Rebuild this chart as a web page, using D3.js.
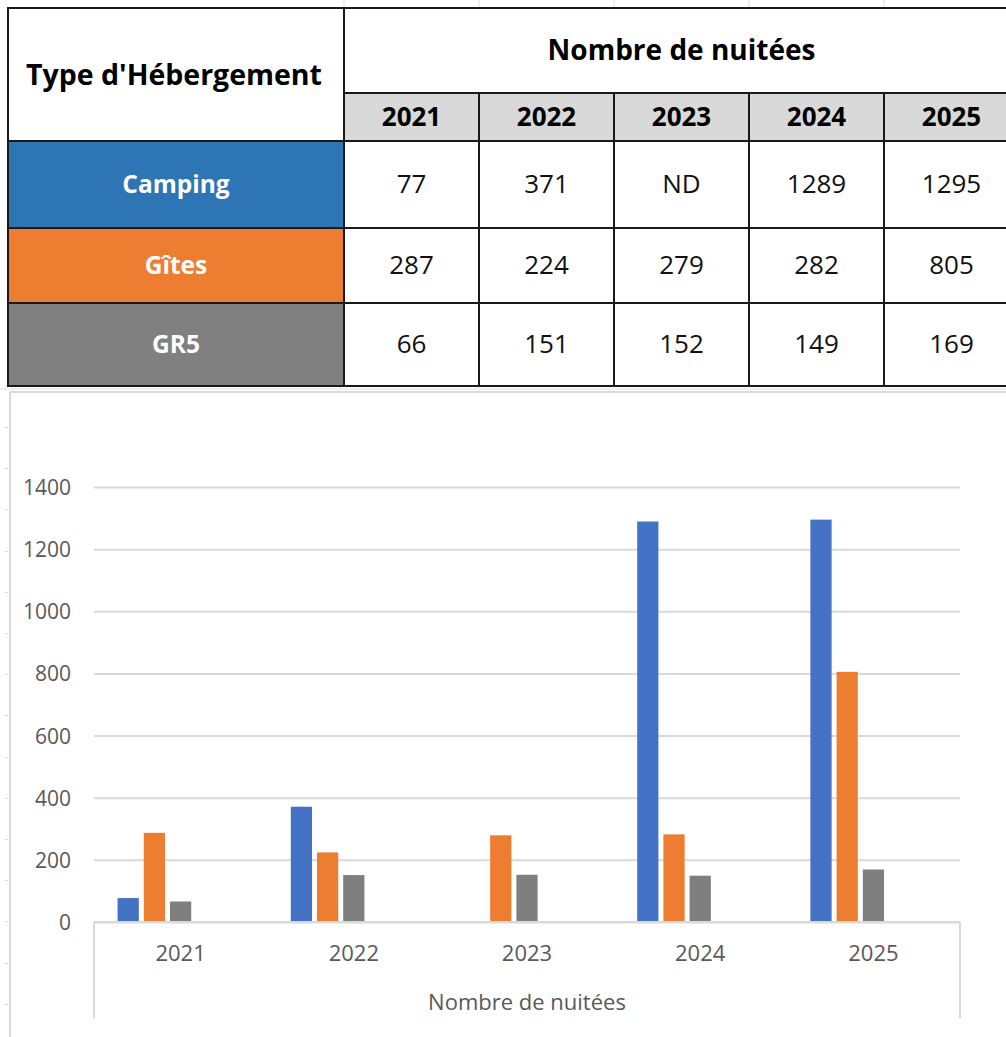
<!DOCTYPE html>
<html>
<head>
<meta charset="utf-8">
<script src="https://cdn.jsdelivr.net/npm/d3@7"></script>
<style>
    body { margin: 0; background: #ffffff; }
    svg { display: block; }
</style>
</head>
<body>
<script>
(function () {
    "use strict";

    var years = ["2021", "2022", "2023", "2024", "2025"];
    var series = ["Camping", "Gîtes", "GR5"];
    var camping = [77, 371, null, 1289, 1295];
    var gites = [287, 224, 279, 282, 805];
    var gr5 = [66, 151, 152, 149, 169];
    var yTicks = [0, 200, 400, 600, 800, 1000, 1200, 1400];
    var tableTitle = "Type d'Hébergement";
    var measureTitle = "Nombre de nuitées";

    var values = [camping, gites, gr5];
    var tableColors = ["#2e75b6", "#ed7d31", "#808080"];
    var barColors = ["#4472c4", "#ed7d31", "#7f7f7f"];

    var width = 1006, height = 1037;
    var font = "'Open Sans', 'Noto Sans', sans-serif";

    var svg = d3.select("body").append("svg")
        .attr("width", width)
        .attr("height", height)
        .style("font-family", font);

    /*
     * TABLE
     */

    var table = {left: 8, split: 344, right: 1019, top: 8, head: 93, years: 141};
    var rowEdges = [141, 228, 303, 386];

    var col = d3.scaleBand()
        .domain(years)
        .range([table.split, table.right]);

    // faint spreadsheet gridlines above the table
    var sheet = svg.append("g").attr("stroke", "#dedede").attr("stroke-width", 1);
    [table.split].concat(years.map(function (y) { return col(y) + col.bandwidth(); }))
        .forEach(function (x) {
            sheet.append("line").attr("x1", x).attr("x2", x).attr("y1", 0).attr("y2", table.top);
        });
    sheet.append("line").attr("x1", 0).attr("x2", width).attr("y1", 389).attr("y2", 389);

    var cells = svg.append("g");

    // year header background
    cells.append("rect")
        .attr("x", table.split).attr("y", table.head)
        .attr("width", table.right - table.split).attr("height", table.years - table.head)
        .attr("fill", "#d9d9d9");

    // coloured row labels
    series.forEach(function (name, i) {
        cells.append("rect")
            .attr("x", table.left).attr("y", rowEdges[i])
            .attr("width", table.split - table.left).attr("height", rowEdges[i + 1] - rowEdges[i])
            .attr("fill", tableColors[i]);
        cells.append("text")
            .attr("x", (table.left + table.split) / 2)
            .attr("y", (rowEdges[i] + rowEdges[i + 1]) / 2 + 2)
            .attr("text-anchor", "middle")
            .attr("dominant-baseline", "middle")
            .attr("fill", "#ffffff")
            .attr("font-weight", "bold")
            .attr("font-size", 24.5)
            .text(name);

        years.forEach(function (year, j) {
            var v = values[i][j];
            cells.append("text")
                .attr("x", col(year) + col.bandwidth() / 2)
                .attr("y", (rowEdges[i] + rowEdges[i + 1]) / 2 + 2)
                .attr("text-anchor", "middle")
                .attr("dominant-baseline", "middle")
                .attr("fill", "#111111")
                .attr("font-size", 26)
                .text(v == null ? "ND" : v);
        });
    });

    cells.append("text")
        .attr("x", (table.left + table.split) / 2 - 2)
        .attr("y", (table.top + table.years) / 2 + 3)
        .attr("text-anchor", "middle")
        .attr("dominant-baseline", "middle")
        .attr("font-weight", "bold")
        .attr("font-size", 28.5)
        .attr("fill", "#000000")
        .text(tableTitle);

    cells.append("text")
        .attr("x", (table.split + table.right) / 2)
        .attr("y", (table.top + table.head) / 2 + 2)
        .attr("text-anchor", "middle")
        .attr("dominant-baseline", "middle")
        .attr("font-weight", "bold")
        .attr("font-size", 28)
        .attr("fill", "#000000")
        .text(measureTitle);

    years.forEach(function (year) {
        cells.append("text")
            .attr("x", col(year) + col.bandwidth() / 2)
            .attr("y", (table.head + table.years) / 2 + 2)
            .attr("text-anchor", "middle")
            .attr("dominant-baseline", "middle")
            .attr("font-weight", "bold")
            .attr("font-size", 26)
            .attr("fill", "#000000")
            .text(year);
    });

    // table borders
    var borders = svg.append("g").attr("stroke", "#1a1a1a").attr("stroke-width", 2);
    borders.append("rect")
        .attr("x", table.left).attr("y", table.top)
        .attr("width", table.right - table.left).attr("height", rowEdges[3] - table.top)
        .attr("fill", "none");
    borders.append("line")
        .attr("x1", table.split).attr("x2", table.split)
        .attr("y1", table.top).attr("y2", rowEdges[3]);
    borders.append("line")
        .attr("x1", table.split).attr("x2", table.right)
        .attr("y1", table.head).attr("y2", table.head);
    rowEdges.slice(0, 3).forEach(function (y) {
        borders.append("line")
            .attr("x1", table.left).attr("x2", table.right)
            .attr("y1", y).attr("y2", y);
    });
    years.slice(1).forEach(function (year) {
        borders.append("line")
            .attr("x1", col(year)).attr("x2", col(year))
            .attr("y1", table.head).attr("y2", rowEdges[3]);
    });

    /*
     * CHART
     */

    var chart = {left: 10, top: 392};
    var plot = {left: 94, right: 960, top: 487, bottom: 922};

    // chart frame
    var frame = svg.append("g").attr("stroke", "#d9d9d9").attr("stroke-width", 2).attr("fill", "none");
    frame.append("line")
        .attr("x1", chart.left).attr("x2", width)
        .attr("y1", chart.top).attr("y2", chart.top);
    frame.append("line")
        .attr("x1", chart.left).attr("x2", chart.left)
        .attr("y1", chart.top).attr("y2", height);

    // spreadsheet row marks at the left edge
    var marks = svg.append("g").attr("stroke", "#d9d9d9");
    d3.range(427, height, 41.2).forEach(function (y) {
        marks.append("line").attr("x1", 5).attr("x2", 8)
            .attr("y1", Math.round(y) + 0.5).attr("y2", Math.round(y) + 0.5);
    });

    var y = d3.scaleLinear()
        .domain([0, 1400])
        .range([plot.bottom, plot.top]);

    var x0 = d3.scaleBand()
        .domain(years)
        .range([plot.left, plot.right]);

    // Excel leaves room for five bars per category
    var x1 = d3.scaleBand()
        .domain(d3.range(5))
        .range([0, x0.bandwidth()])
        .paddingInner(0.19)
        .paddingOuter(0.9);

    var grid = svg.append("g")
        .attr("transform", "translate(" + plot.left + ",0)")
        .call(d3.axisLeft(y).tickValues(yTicks).tickSize(-(plot.right - plot.left)).tickFormat(""));
    grid.select(".domain").remove();
    grid.selectAll(".tick line").attr("stroke", "#d9d9d9").attr("stroke-width", 2);

    var yAxis = svg.append("g")
        .attr("transform", "translate(" + 71 + ",0)")
        .call(d3.axisLeft(y).tickValues(yTicks).tickFormat(d3.format("d")).tickSize(0).tickPadding(0));
    yAxis.select(".domain").remove();
    yAxis.selectAll(".tick text")
        .attr("font-family", font)
        .attr("font-size", 21)
        .attr("fill", "#595959")
        .attr("dy", "0.36em");

    var bars = svg.append("g");
    series.forEach(function (name, i) {
        bars.selectAll(null)
            .data(years.map(function (year, j) { return {year: year, value: values[i][j]}; })
                .filter(function (d) { return d.value != null; }))
            .enter().append("rect")
            .attr("x", function (d) { return x0(d.year) + x1(i); })
            .attr("y", function (d) { return y(d.value); })
            .attr("width", x1.bandwidth())
            .attr("height", function (d) { return y(0) - y(d.value); })
            .attr("fill", barColors[i]);
    });

    // category axis with its outer level box
    var xAxis = svg.append("g")
        .attr("transform", "translate(0," + plot.bottom + ")")
        .call(d3.axisBottom(x0).tickSize(0).tickPadding(23));
    xAxis.select(".domain").remove();
    xAxis.selectAll(".tick text")
        .attr("font-family", font)
        .attr("font-size", 22)
        .attr("fill", "#595959");

    var axisBox = svg.append("g").attr("stroke", "#d9d9d9").attr("stroke-width", 2);
    axisBox.append("line")
        .attr("x1", plot.left).attr("x2", plot.right)
        .attr("y1", plot.bottom).attr("y2", plot.bottom);
    [plot.left, plot.right].forEach(function (xv) {
        axisBox.append("line")
            .attr("x1", xv).attr("x2", xv)
            .attr("y1", plot.bottom).attr("y2", 1018);
    });

    svg.append("text")
        .attr("x", (plot.left + plot.right) / 2)
        .attr("y", 1004)
        .attr("text-anchor", "middle")
        .attr("dominant-baseline", "middle")
        .attr("font-size", 22)
        .attr("fill", "#595959")
        .text(measureTitle);

})();
</script>
</body>
</html>
